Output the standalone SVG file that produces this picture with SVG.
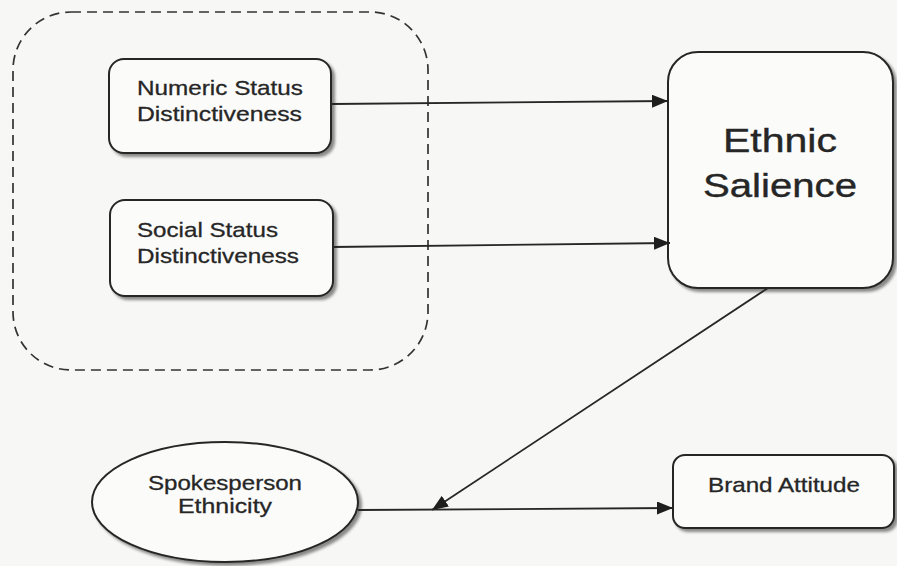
<svg xmlns="http://www.w3.org/2000/svg" width="897" height="566" viewBox="0 0 897 566">
  <style>
    .box { fill: #fbfbfa; stroke: #262626; stroke-width: 2; filter: url(#shadow); }
    .group { fill: none; stroke: #333; stroke-width: 1.7; stroke-dasharray: 10 6; }
    .label { font-family: "Liberation Sans", Arial, sans-serif; font-size: 21px; fill: #262626; stroke: #262626; stroke-width: 0.3; }
    .big { font-size: 34px; stroke-width: 0.4; }
    .link { fill: none; stroke: #262626; stroke-width: 1.8; marker-end: url(#arrow); }
  </style>
  <defs>
    <filter id="shadow" x="-10%" y="-10%" width="130%" height="130%">
      <feGaussianBlur in="SourceAlpha" stdDeviation="1.6"/>
      <feOffset dx="3" dy="3" result="b"/>
      <feComponentTransfer><feFuncA type="linear" slope="0.45"/></feComponentTransfer>
      <feMerge><feMergeNode/><feMergeNode in="SourceGraphic"/></feMerge>
    </filter>
    <marker id="arrow" markerUnits="userSpaceOnUse" markerWidth="17" markerHeight="13" refX="16" refY="6.5" orient="auto">
      <path d="M0,0 L16,6.5 L0,13 z" fill="#1e1e1e"/>
    </marker>
  </defs>

  <rect width="897" height="566" fill="#f7f7f5"/>

  <!-- dashed grouping frame -->
  <rect class="group" x="13" y="12" width="415" height="358" rx="58" ry="58"/>

  <g id="numeric-status">
    <rect class="box" x="109" y="59" width="222" height="94" rx="15"/>
    <text class="label" x="137" y="95" textLength="166" lengthAdjust="spacingAndGlyphs">Numeric Status</text>
    <text class="label" x="137" y="121" textLength="165" lengthAdjust="spacingAndGlyphs">Distinctiveness</text>
  </g>

  <g id="social-status">
    <rect class="box" x="110" y="200" width="223" height="96" rx="15"/>
    <text class="label" x="137" y="237" textLength="141" lengthAdjust="spacingAndGlyphs">Social Status</text>
    <text class="label" x="137" y="263" textLength="162" lengthAdjust="spacingAndGlyphs">Distinctiveness</text>
  </g>

  <g id="ethnic-salience">
    <rect class="box" x="668" y="52" width="225" height="236" rx="30"/>
    <text class="label big" x="780" y="152" text-anchor="middle" textLength="114" lengthAdjust="spacingAndGlyphs">Ethnic</text>
    <text class="label big" x="780" y="197" text-anchor="middle" textLength="154" lengthAdjust="spacingAndGlyphs">Salience</text>
  </g>

  <g id="spokesperson-ethnicity">
    <ellipse class="box" cx="225" cy="502" rx="133" ry="60"/>
    <text class="label" x="225" y="490" text-anchor="middle" textLength="154" lengthAdjust="spacingAndGlyphs">Spokesperson</text>
    <text class="label" x="225" y="513" text-anchor="middle" textLength="94" lengthAdjust="spacingAndGlyphs">Ethnicity</text>
  </g>

  <g id="brand-attitude">
    <rect class="box" x="673" y="455" width="221" height="73" rx="12"/>
    <text class="label" x="784" y="492" text-anchor="middle" textLength="152" lengthAdjust="spacingAndGlyphs">Brand Attitude</text>
  </g>

  <g id="connectors">
    <line class="link" x1="332" y1="104" x2="668" y2="101"/>
    <line class="link" x1="333" y1="247" x2="670" y2="243"/>
    <line class="link" x1="768" y1="288" x2="432" y2="510"/>
    <line class="link" x1="358" y1="510" x2="673" y2="508"/>
  </g>
</svg>
